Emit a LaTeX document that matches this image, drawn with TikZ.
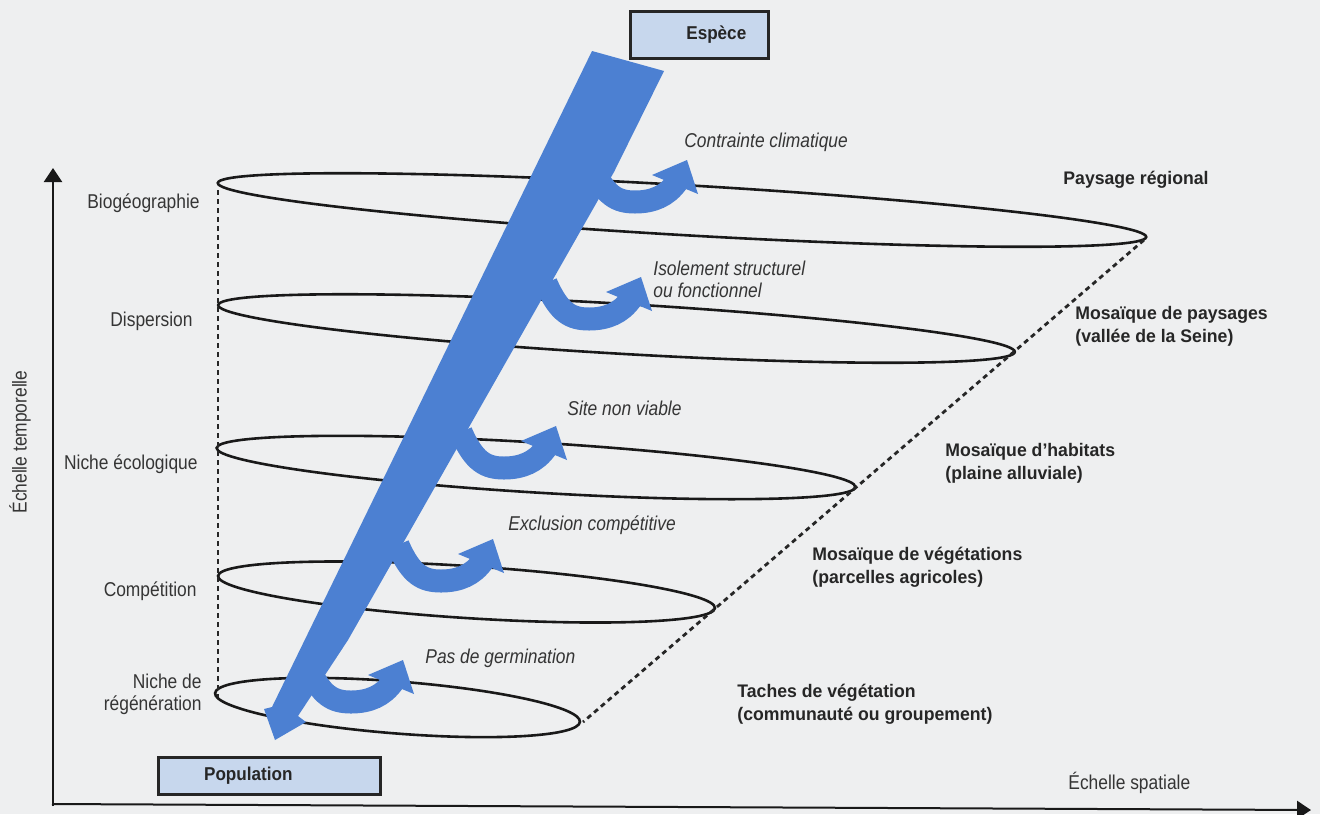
\documentclass[tikz,border=0pt]{standalone}
\usepackage{fontspec}
\usetikzlibrary{arrows.meta}
\setmainfont{Liberation Sans}
\newfontfamily\regf{Liberation Sans}[FakeStretch=0.87]
\newfontfamily\boldf{Liberation Sans}[FakeStretch=0.97]
\newfontfamily\boxf{Liberation Sans}[FakeStretch=0.92]
\definecolor{bg}{HTML}{EEEFF0}
\definecolor{arrowblue}{HTML}{4C80D2}
\definecolor{boxfill}{HTML}{C7D7ED}
\definecolor{txt}{HTML}{353535}
\newcommand{\hookarrow}[2]{%
  \begin{scope}[shift={(#1,#2)}]
    \draw[hookline] (-95,6) .. controls (-82,36) and (-70,42) .. (-52,42)
                           .. controls (-34,42) and (-20,36) .. (-10,22);
    \fill[arrowblue] (0,0) -- (11,34) -- (-35,15) -- cycle;
  \end{scope}}
\begin{document}
\begin{tikzpicture}[x=0.5pt,y=-0.5pt,
  ring/.style={line width=1.3pt, draw=black!90},
  guide/.style={line width=1.4pt, draw=black!85, dash pattern=on 2.5pt off 2pt},
  hookline/.style={line width=11.5pt, draw=arrowblue, line cap=butt},
  lbl/.style={font=\regf\fontsize{10}{12}\selectfont, text=txt, inner sep=0pt},
  ital/.style={font=\regf\itshape\fontsize{10}{11}\selectfont, text=txt, inner sep=0pt, align=left},
  scalelbl/.style={font=\boldf\bfseries\fontsize{9.1}{11.5}\selectfont, text=black!85, inner sep=0pt, align=left},
  levelbox/.style={draw=black!85, line width=1.3pt, fill=boxfill, inner sep=0pt,
     font=\boxf\bfseries\fontsize{9.3}{11}\selectfont, text=black!85},
  axis/.style={line width=1pt, draw=black!90, -{Triangle[length=7pt,width=9pt]}}]

\fill[bg] (0,0) rectangle (1320,814);
\useasboundingbox (0,0) rectangle (1320,814);

% ellipses
\draw[ring, rotate around={-3.33:(682,210)}] (682,210) ellipse [x radius=465, y radius=25];
\draw[ring, rotate around={-3.37:(616.5,328.5)}] (616.5,328.5) ellipse [x radius=399, y radius=25];
\draw[ring, rotate around={-3.5:(536,467.5)}] (536,467.5) ellipse [x radius=320, y radius=25];
\draw[ring, rotate around={-3.7:(466.5,592)}] (466.5,592) ellipse [x radius=249, y radius=26];
\draw[ring, rotate around={-4.5:(397.5,707.5)}] (397.5,707.5) ellipse [x radius=183, y radius=26];

% guides
\coordinate (L1) at (218,190);
\coordinate (L5) at (218,697);
\coordinate (R1) at (1144,240);
\coordinate (R5) at (583,722);
\draw[guide] (L1) -- (L5);
\draw[guide] (R1) -- (R5);

% axes
\coordinate (O) at (53,806);
\coordinate (Ytip) at (53,168);
\coordinate (Xo) at (52,804);
\coordinate (Xtip) at (1311,810);
\draw[axis] (O) -- (Ytip);
\draw[axis] (Xo) -- (Xtip);

% big arrow
\fill[arrowblue] (592,51) -- (664,71) -- (614,172) -- (348,640) -- (298,716)
   -- (306,722) -- (275,740) -- (264,709) -- (272,707) -- cycle;

% hooks
\hookarrow{687}{160}
\hookarrow{641}{277}
\hookarrow{556}{426}
\hookarrow{493}{539}
\hookarrow{403}{660}

% boxes
\node[levelbox, anchor=north west, minimum width=69pt, minimum height=23.5pt] (espece) at (629,10) {\hspace*{17pt}Espèce};
\node[levelbox, anchor=north west, minimum width=111pt, minimum height=18.5pt] (population) at (157,756) {Population\hspace*{21pt}};

% left labels
\node[lbl, anchor=east] (biog) at (200,203) {Biogéographie};
\node[lbl, anchor=east] (disp) at (193,321) {Dispersion};
\node[lbl, anchor=east] (niche) at (198,464) {Niche écologique};
\node[lbl, anchor=east] (comp) at (197,591) {Compétition};
\node[lbl, anchor=east, align=right, font=\regf\fontsize{10}{11}\selectfont] (regen) at (202,694) {Niche de\\régénération};

% italic labels
\node[ital, anchor=west] (clim) at (684,142) {Contrainte climatique};
\node[ital, anchor=west] (isol) at (653,279) {Isolement structurel\\ou fonctionnel};
\node[ital, anchor=west] (site) at (567,408) {Site non viable};
\node[ital, anchor=west] (excl) at (508,525) {Exclusion compétitive};
\node[ital, anchor=west] (germ) at (425,658) {Pas de germination};

% right labels
\node[scalelbl, anchor=west] (pr) at (1063,180) {Paysage régional};
\node[scalelbl, anchor=west] (mp) at (1075,326.5) {Mosaïque de paysages\\(vallée de la Seine)};
\node[scalelbl, anchor=west] (mh) at (945,463.5) {Mosaïque d’habitats\\(plaine alluviale)};
\node[scalelbl, anchor=west] (mv) at (812,567.5) {Mosaïque de végétations\\(parcelles agricoles)};
\node[scalelbl, anchor=west] (tv) at (737,704) {Taches de végétation\\(communauté ou groupement)};

% axis labels
\node[lbl, rotate=90] (et) at (20,442) {Échelle temporelle};
\node[lbl, anchor=west] (es) at (1068,783) {Échelle spatiale};
\end{tikzpicture}
\end{document}
